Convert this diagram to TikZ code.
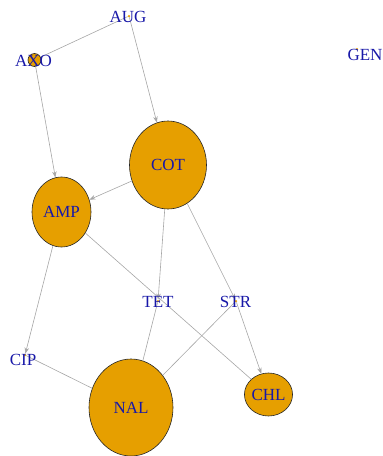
\documentclass[tikz,border=0pt]{standalone}
\usepackage{fontspec}
\setmainfont{Liberation Serif}
\usetikzlibrary{shapes.geometric,arrows.meta}
\definecolor{vfill}{HTML}{E69F00}
\definecolor{vlab}{HTML}{1818A8}
\definecolor{elink}{HTML}{A6A6A6}
\tikzset{
  bigv/.style={ellipse, draw=black!85, line width=0.6pt, fill=vfill, inner sep=0pt,
               font=\fontsize{17}{17}\selectfont, text=vlab},
  tinyv/.style={circle, fill=vfill, inner sep=0pt, minimum size=2.5pt},
  vtext/.style={font=\fontsize{17}{17}\selectfont, text=vlab, inner sep=0pt},
  link/.style={draw=elink, line width=0.6pt},
  arc/.style={link, -{Stealth[length=6pt,width=4.5pt]}}
}
\begin{document}
\begin{tikzpicture}[x=1pt,y=-1pt]
\useasboundingbox (0,0) rectangle (383,456);
% sized vertices
\node[bigv, minimum width=77pt, minimum height=88pt] (COT) at (168,165) {COT};
\node[bigv, minimum width=59pt, minimum height=70pt] (AMP) at (61.5,212) {AMP};
\node[bigv, minimum width=84pt, minimum height=97pt] (NAL) at (131,407.5) {NAL};
\node[bigv, minimum width=37pt, minimum height=43pt] (CHL) at (268.5,394.5) {CHL};
\node[circle, draw=black!85, line width=0.6pt, fill=vfill, inner sep=0pt, minimum size=13pt] (AXO) at (34.5,60) {};
% small vertices
\node[tinyv] (AUG) at (129,16) {};
\node[tinyv] (TET) at (158,301) {};
\node[tinyv] (STR) at (236,301) {};
\node[tinyv] (CIP) at (25,355) {};
\node[tinyv] (GEN) at (357,49) {};
% edges
\draw[link] (AUG) -- (AXO);
\draw[arc] (AUG) -- (COT);
\draw[arc] (AXO) -- (AMP);
\draw[arc] (COT) -- (AMP);
\draw[arc] (COT) -- (TET);
\draw[arc] (COT) -- (STR);
\draw[arc] (STR) -- (CHL);
\draw[arc] (AMP) -- (CIP);
\draw[link] (AMP) -- (CHL);
\draw[link] (CIP) -- (NAL);
\draw[link] (TET) -- (NAL);
\draw[link] (STR) -- (NAL);
% labels of the small vertices
\node[vtext] (lAUG) at (128,17) {AUG};
\node[vtext] (lAXO) at (33.5,61) {AXO};
\node[vtext] (lTET) at (158,302) {TET};
\node[vtext] (lSTR) at (235.5,302) {STR};
\node[vtext] (lCIP) at (23,360) {CIP};
\node[vtext] (lGEN) at (365,55) {GEN};
\end{tikzpicture}
\end{document}
